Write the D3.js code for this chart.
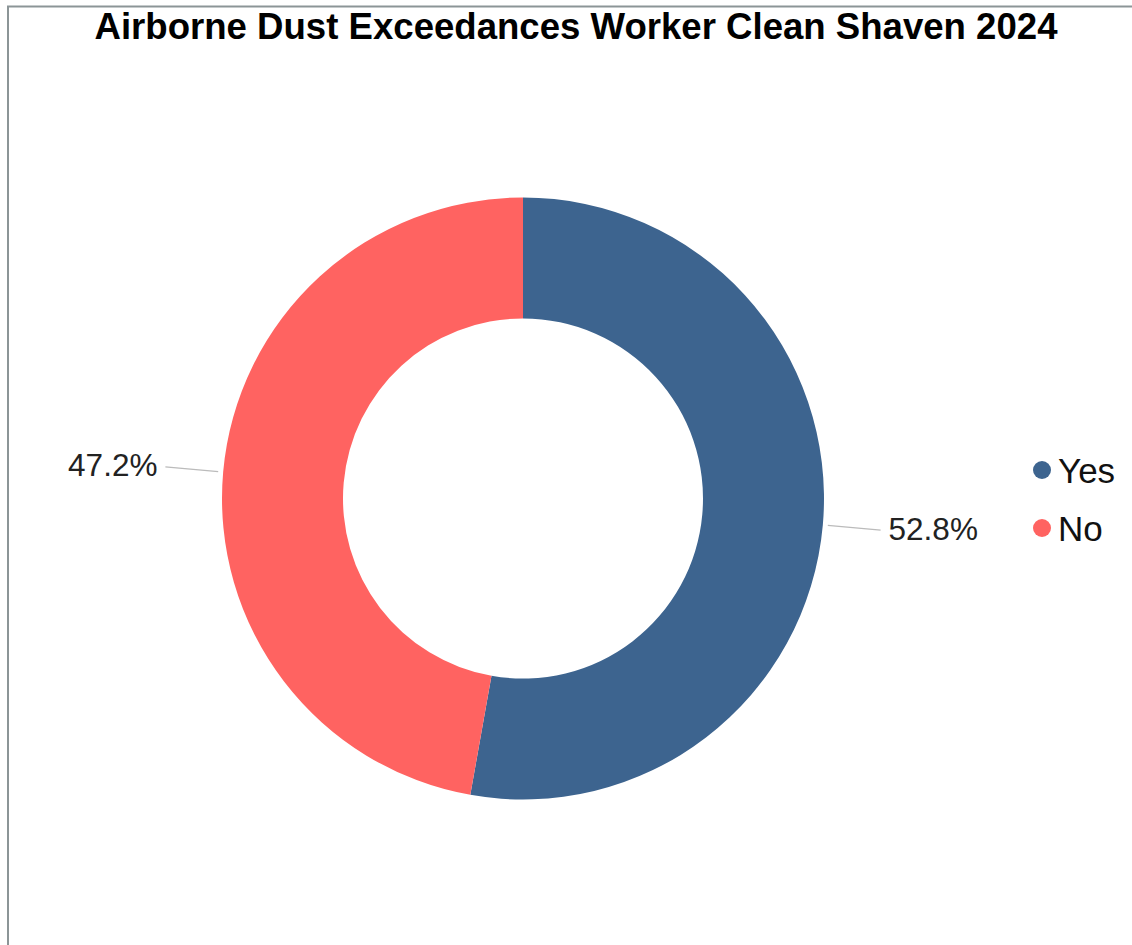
<!DOCTYPE html>
<html lang="en">
<head>
<meta charset="UTF-8">
<title>Airborne Dust Exceedances Worker Clean Shaven 2024</title>
<script src="https://d3js.org/d3.v7.min.js"></script>
<style>
  body { margin: 0; background: #fff; }
  text { font-family: "Liberation Sans", Arial, sans-serif; }
</style>
</head>
<body>
<svg width="1132" height="945"></svg>
<script>
// data
var categories = ["Yes", "No"];
var values = [52.8, 47.2];
var colors = ["#3d648f", "#ff6361"];

var svg = d3.select("svg");

// frame
svg.append("rect")
    .attr("x", 8).attr("y", 6.5)
    .attr("width", 1200).attr("height", 1200)
    .attr("fill", "none")
    .attr("stroke", "#8c9597")
    .attr("stroke-width", 2);

svg.append("text")
    .attr("x", 576).attr("y", 39)
    .attr("text-anchor", "middle")
    .style("font-size", "36.6px")
    .style("font-weight", "bold")
    .text("Airborne Dust Exceedances Worker Clean Shaven 2024");

var cx = 523, cy = 498.5, outerR = 301, innerR = 180;
var g = svg.append("g").attr("transform", "translate(" + cx + "," + cy + ")");

var data = categories.map(function(c, i) { return {name: c, value: values[i], color: colors[i]}; });

var pie = d3.pie().sort(null).value(function(d) { return d.value; });
var arc = d3.arc().innerRadius(innerR).outerRadius(outerR);
var arcs = pie(data);

g.selectAll("path.slice")
    .data(arcs)
    .enter().append("path")
    .attr("class", "slice")
    .attr("d", arc)
    .attr("fill", function(d) { return d.data.color; });

function pt(a, r) { return [Math.sin(a) * r, -Math.cos(a) * r]; }

var total = d3.sum(values);
arcs.forEach(function(d) {
    var mid = (d.startAngle + d.endAngle) / 2;
    var p1 = pt(mid, 306), p2 = pt(mid, 359), p3 = pt(mid, 367);
    g.append("line")
        .attr("x1", p1[0]).attr("y1", p1[1])
        .attr("x2", p2[0]).attr("y2", p2[1])
        .attr("stroke", "#bbbbbb")
        .attr("stroke-width", 1.2);
    g.append("text")
        .attr("x", p3[0]).attr("y", p3[1] - 1.5)
        .attr("text-anchor", Math.sin(mid) > 0 ? "start" : "end")
        .attr("dominant-baseline", "central")
        .style("font-size", "31.5px")
        .style("fill", "#222")
        .text(d3.format(".1f")(d.data.value / total * 100) + "%");
});

// legend
var legend = svg.append("g").attr("transform", "translate(1042,470)");
var item = legend.selectAll("g")
    .data(data)
    .enter().append("g")
    .attr("transform", function(d, i) { return "translate(0," + i * 58 + ")"; });
item.append("circle").attr("r", 9).attr("fill", function(d) { return d.color; });
item.append("text")
    .attr("x", 16).attr("y", 0)
    .attr("dominant-baseline", "central")
    .style("font-size", "35px")
    .style("fill", "#111")
    .text(function(d) { return d.name; });
</script>
</body>
</html>
